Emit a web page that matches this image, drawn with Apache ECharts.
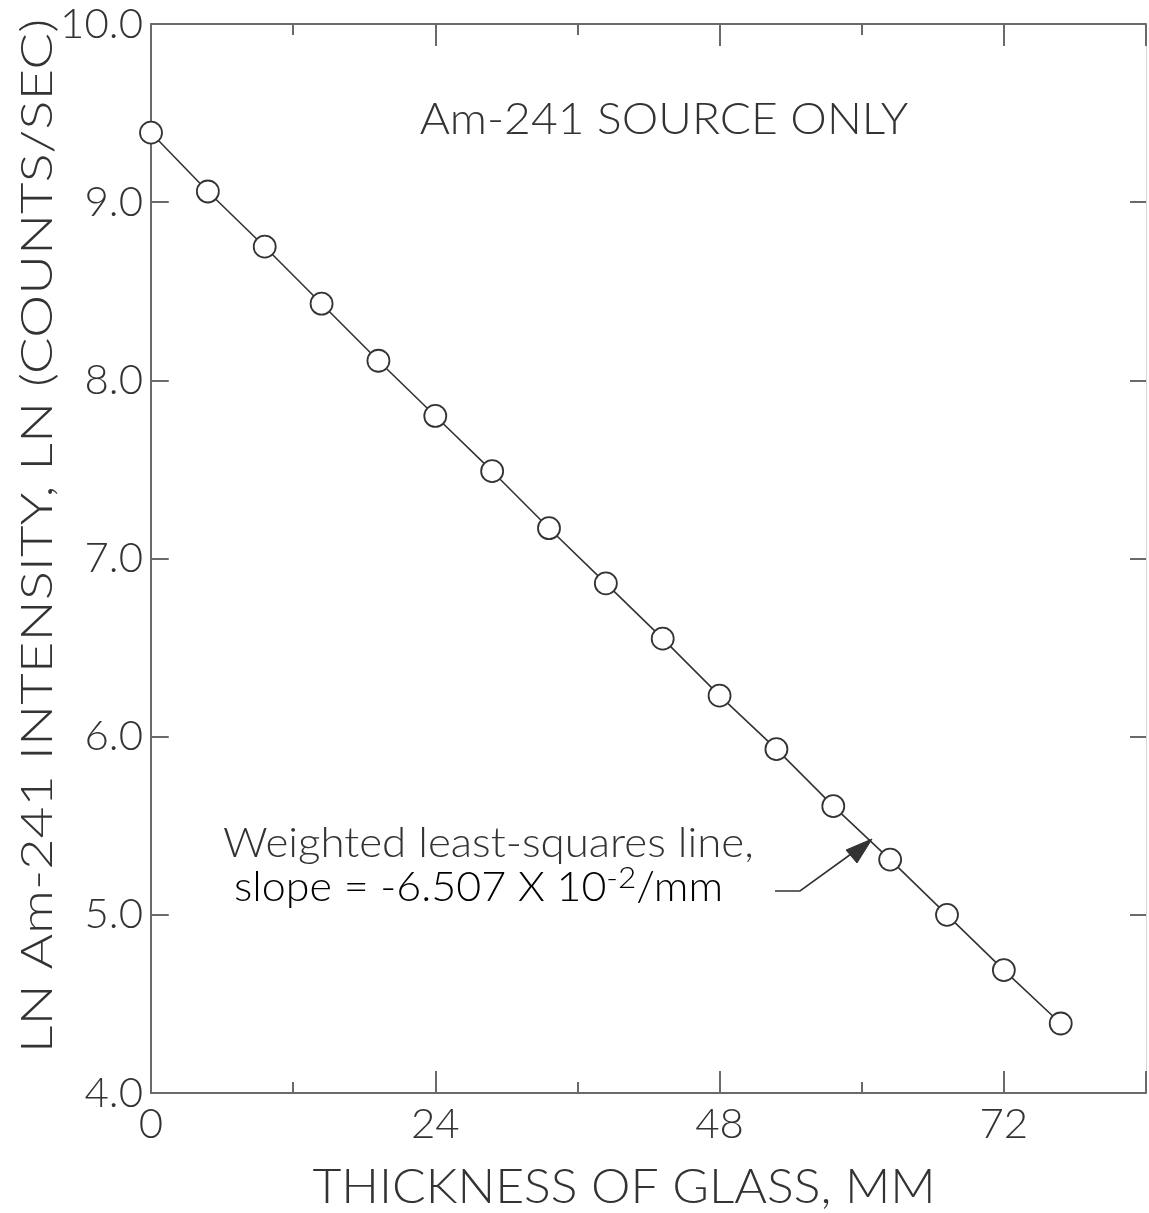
<!DOCTYPE html>
<html>
<head>
<meta charset="utf-8">
<script src="https://cdn.jsdelivr.net/npm/echarts@6/dist/echarts.min.js"></script>
<style>
  html, body { margin: 0; padding: 0; background: #fff; }
  #chart { width: 1149px; height: 1213px; }
</style>
</head>
<body>
<div id="chart"></div>
<script>
// ===== data =====
const thickness = [0, 4.8, 9.6, 14.4, 19.2, 24, 28.8, 33.6, 38.4, 43.2, 48, 52.8, 57.6, 62.4, 67.2, 72, 76.8];
const lnIntensity = [9.39, 9.06, 8.75, 8.43, 8.11, 7.80, 7.49, 7.17, 6.86, 6.55, 6.23, 5.93, 5.61, 5.31, 5.00, 4.69, 4.39];
const xLabels = ['0', '24', '48', '72'];
const yLabels = ['4.0', '5.0', '6.0', '7.0', '8.0', '9.0', '10.0'];

const FONT = 'Lato';
const INK = '#333';
const AXIS = '#6a6a6a';

const chart = echarts.init(document.getElementById('chart'), null, { renderer: 'canvas' });

const points = thickness.map((x, i) => [x, lnIntensity[i]]);

// inward ticks on the left frame, drawn as short segments in data space
const leftTickLines = yLabels.map(l => [
  { coord: [0, parseFloat(l)] },
  { coord: [1.5, parseFloat(l)] }
]);

// shared tick style for the two x axes (major every 24, minor every 12)
const xTicks = {
  axisLine: { show: true, onZero: false, lineStyle: { color: AXIS, width: 2 } },
  axisTick: { show: true, inside: true, length: 22, lineStyle: { color: AXIS, width: 2 } },
  minorTick: { show: true, splitNumber: 2, length: 11, lineStyle: { color: AXIS, width: 2 } },
  splitLine: { show: false }
};

const option = {
  backgroundColor: '#fff',
  animation: false,
  grid: { left: 151, top: 24, width: 997, height: 1069 },
  xAxis: [
    Object.assign({
      type: 'value', position: 'bottom', min: 0, max: 84, interval: 24,
      axisLabel: {
        margin: 10, fontFamily: FONT, fontWeight: 300, fontSize: 42, color: INK,
        formatter: v => xLabels[xLabels.indexOf(String(v))] || ''
      }
    }, xTicks),
    Object.assign({
      type: 'value', position: 'top', min: 0, max: 84, interval: 24,
      axisLabel: { show: false }
    }, xTicks)
  ],
  yAxis: [
    {
      type: 'value', position: 'left', min: 4, max: 10, interval: 1,
      axisLine: { show: true, onZero: false, lineStyle: { color: AXIS, width: 2 } },
      axisTick: { show: false },
      splitLine: { show: false },
      axisLabel: {
        margin: 8, fontFamily: FONT, fontWeight: 300, fontSize: 42, color: INK,
        formatter: v => yLabels[Math.round(v) - 4]
      }
    },
    {
      type: 'value', position: 'right', min: 4, max: 10, interval: 1,
      axisLine: { show: true, onZero: false, lineStyle: { color: '#d6d6d6', width: 1 } },
      axisTick: { show: true, inside: true, length: 16, lineStyle: { color: AXIS, width: 2 } },
      splitLine: { show: false },
      axisLabel: { show: false }
    }
  ],
  series: [{
    type: 'line',
    xAxisIndex: 0,
    yAxisIndex: 0,
    data: points,
    symbol: 'circle',
    symbolSize: 22,
    lineStyle: { color: INK, width: 1.6 },
    itemStyle: { color: '#fff', borderColor: INK, borderWidth: 1.8 },
    z: 3,
    markLine: {
      silent: true,
      symbol: ['none', 'none'],
      label: { show: false },
      lineStyle: { type: 'solid', color: AXIS, width: 2 },
      emphasis: { disabled: true },
      data: leftTickLines
    }
  }],
  graphic: [
    // y axis name
    {
      type: 'text', x: 38, y: 536, rotation: Math.PI / 2, scaleX: 1.24,
      style: {
        text: 'LN Am-241 INTENSITY, LN (COUNTS/SEC)',
        fontFamily: FONT, fontWeight: 300, fontSize: 44, fill: INK,
        align: 'center', verticalAlign: 'middle'
      }
    },
    // x axis name
    {
      type: 'text', x: 624, y: 1188, scaleX: 1.04,
      style: {
        text: 'THICKNESS OF GLASS, MM',
        fontFamily: FONT, fontWeight: 300, fontSize: 48, fill: INK,
        align: 'center', verticalAlign: 'middle'
      }
    },
    // panel label
    {
      type: 'text', x: 664, y: 120, scaleX: 1.05,
      style: {
        text: 'Am-241 SOURCE ONLY',
        fontFamily: FONT, fontWeight: 300, fontSize: 44, fill: INK,
        align: 'center', verticalAlign: 'middle'
      }
    },
    // fit annotation
    {
      type: 'text', x: 223, y: 844, scaleX: 1.07,
      style: {
        text: 'Weighted least-squares line,',
        fontFamily: FONT, fontWeight: 300, fontSize: 41, fill: INK,
        align: 'left', verticalAlign: 'middle'
      }
    },
    {
      type: 'text', x: 234, y: 888, scaleX: 1.05,
      style: {
        text: '{a|slope = -6.507 X 10}{s|-2}{a|/mm}',
        align: 'left', verticalAlign: 'middle',
        rich: {
          a: { fontFamily: FONT, fontWeight: 300, fontSize: 41, color: INK },
          s: { fontFamily: FONT, fontWeight: 300, fontSize: 30, color: INK, verticalAlign: 'top', padding: [0, 0, 20, 0] }
        }
      }
    },
    // arrow
    {
      type: 'polyline',
      shape: { points: [[775, 891], [800, 891], [858, 849]] },
      style: { stroke: INK, lineWidth: 1.6, fill: null }
    },
    {
      type: 'polygon',
      shape: { points: [[872, 839], [846, 850], [857, 863]] },
      style: { fill: INK, stroke: INK, lineWidth: 1 }
    }
  ]
};

chart.setOption(option);
</script>
</body>
</html>
